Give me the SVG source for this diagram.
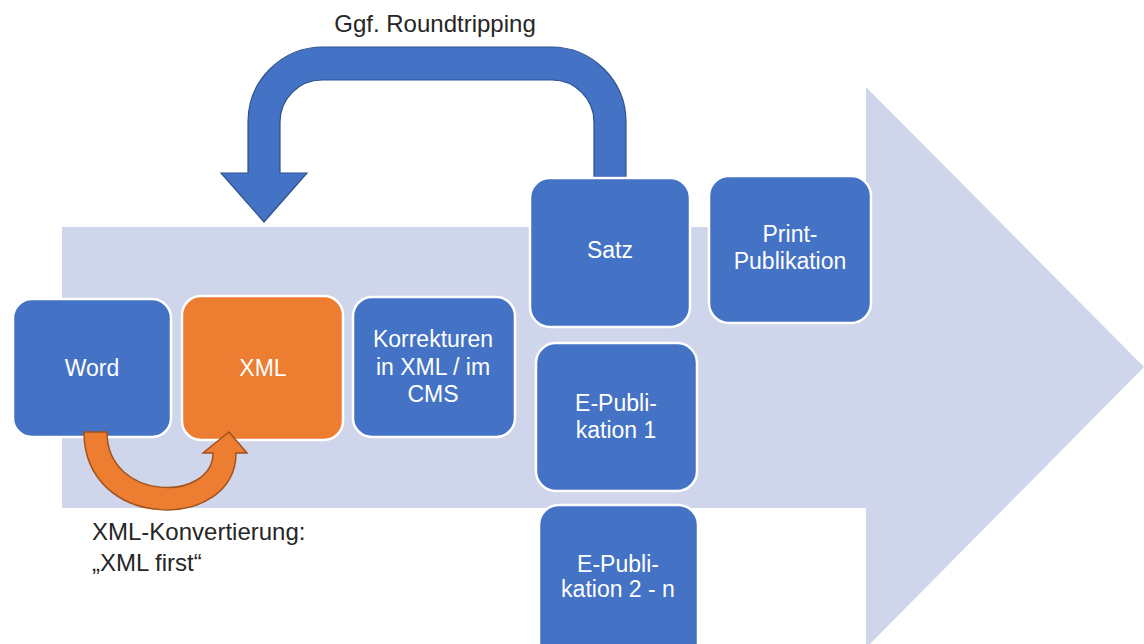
<svg xmlns="http://www.w3.org/2000/svg" width="1144" height="644" viewBox="0 0 1144 644">
<style>
.bg{fill:#CFD5EA}
.box{fill:#4472C4;stroke:#FFFFFF;stroke-width:2.5}
.box.orange{fill:#ED7D31}
.lbl{font-family:"Liberation Sans",Arial,sans-serif;font-size:23px;fill:#FFFFFF;text-anchor:middle}
.out{font-family:"Liberation Sans",Arial,sans-serif;font-size:24px;fill:#262626}
.uarrow{fill:#4472C4;stroke:#2F528F;stroke-width:1.2}
.carrow{fill:#ED7D31;stroke:#A0521C;stroke-width:1.5}
</style>
<rect width="1144" height="644" fill="#FFFFFF"/>
<g id="background-arrow">
<polygon class="bg" points="62,227 866,227 866,87 1144,367 866,648 866,508 62,508"/>
</g>
<g id="connectors">
<path id="roundtrip-arrow" class="uarrow" d="M 594 177 L 594 122 A 42 42 0 0 0 552 80 L 322 80 A 42 42 0 0 0 280 122 L 280 173 L 307 173 L 264 222 L 221 173 L 248 173 L 248 122 A 75 75 0 0 1 323 47 L 551 47 A 75 75 0 0 1 626 122 L 626 177 Z"/>
</g>
<g id="node-word">
<rect class="box" x="13" y="299" width="158" height="138" rx="19"/>
<text class="lbl" x="92" y="376">Word</text>
</g>
<g id="node-xml">
<rect class="box orange" x="182" y="296" width="161" height="144" rx="19"/>
<text class="lbl" x="263" y="376">XML</text>
</g>
<g id="node-korrekturen">
<rect class="box" x="353" y="297" width="162" height="140" rx="19"/>
<text class="lbl" x="433" y="347">Korrekturen</text>
<text class="lbl" x="433" y="375">in XML / im</text>
<text class="lbl" x="433" y="402">CMS</text>
</g>
<g id="node-satz">
<rect class="box" x="530" y="178" width="160" height="149" rx="20"/>
<text class="lbl" x="610" y="258">Satz</text>
</g>
<g id="node-print">
<rect class="box" x="709" y="176" width="162" height="147" rx="20"/>
<text class="lbl" x="790" y="242">Print-</text>
<text class="lbl" x="790" y="269">Publikation</text>
</g>
<g id="node-epub1">
<rect class="box" x="536" y="343" width="161" height="148" rx="20"/>
<text class="lbl" x="616" y="411">E-Publi-</text>
<text class="lbl" x="616" y="438">kation 1</text>
</g>
<g id="node-epub2">
<rect class="box" x="539" y="505" width="159" height="160" rx="20"/>
<text class="lbl" x="618" y="572">E-Publi-</text>
<text class="lbl" x="618" y="597">kation 2 - n</text>
</g>
<g id="connector-conversion">
<path class="carrow" d="M 84 432 C 84 532 236 532 236 453 L 247 453 L 229 432 L 203 453 L 213 453 C 213 502 107 502 107 432 Z"/>
</g>
<g id="labels">
<text class="out" x="435" y="32" text-anchor="middle">Ggf. Roundtripping</text>
<text class="out" x="92" y="540">XML-Konvertierung:</text>
<text class="out" x="92" y="571">„XML first“</text>
</g>
</svg>
